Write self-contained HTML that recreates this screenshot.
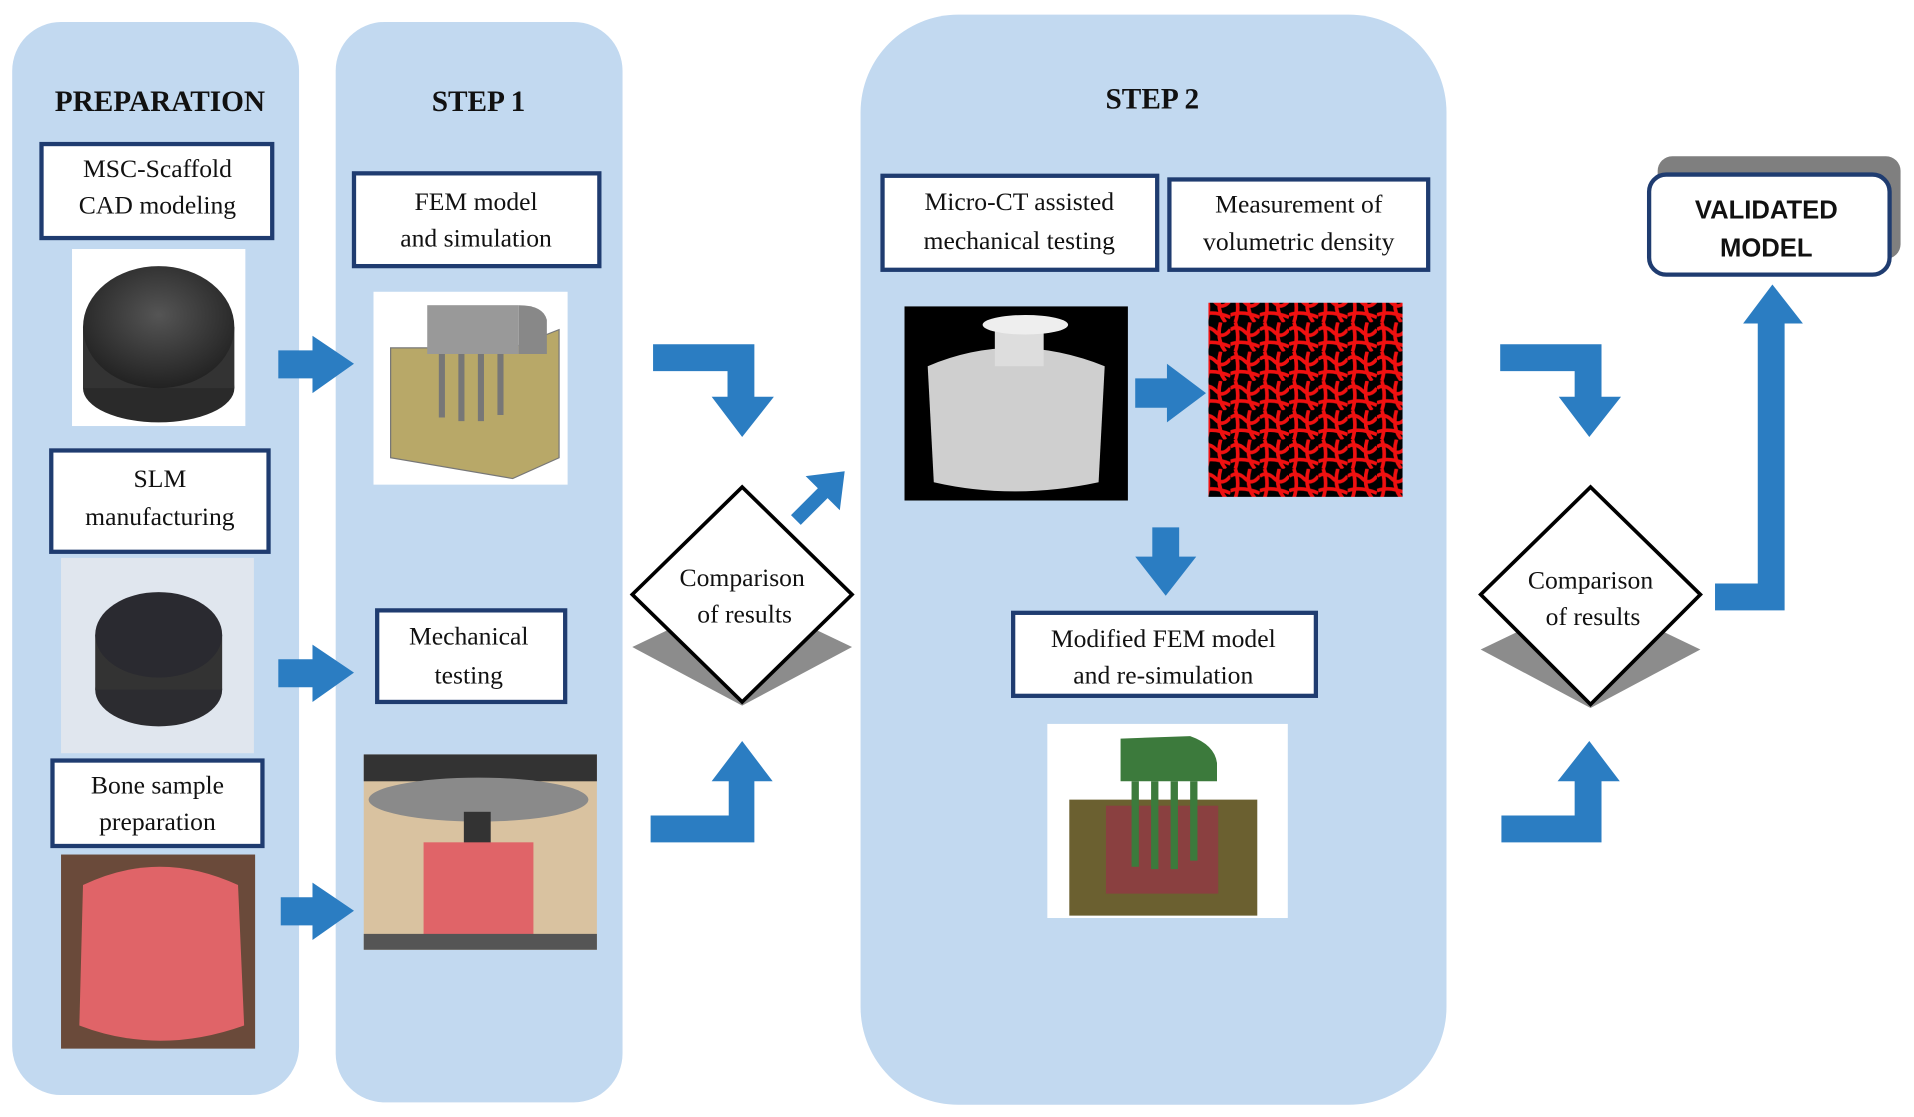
<!DOCTYPE html>
<html><head><meta charset="utf-8"><style>
html,body{margin:0;padding:0;background:#fff}
svg{display:block}
text{font-family:"Liberation Serif",serif;fill:#111}
</style></head><body>
<svg width="1914" height="1117" viewBox="0 0 1568 915" preserveAspectRatio="none" xmlns="http://www.w3.org/2000/svg">
<defs>
<radialGradient id="sc" cx="0.5" cy="0.4" r="0.6"><stop offset="0" stop-color="#555"/><stop offset="1" stop-color="#222"/></radialGradient>
<pattern id="redp" width="24" height="24" patternUnits="userSpaceOnUse"><rect width="24" height="24" fill="#000"/><path d="M0 6 Q6 2 12 8 T24 6 M4 0 Q8 12 4 24 M16 0 Q12 14 20 24 M0 18 Q10 14 24 20" stroke="#f01010" stroke-width="3" fill="none"/></pattern>
</defs>
<rect width="1568" height="915" fill="#fff"/>
<!-- panels -->
<rect x="10" y="18" width="235" height="879" rx="40" fill="#c2d9f0"/>
<rect x="275" y="18" width="235" height="885" rx="40" fill="#c2d9f0"/>
<rect x="705" y="12" width="480" height="893" rx="80" fill="#c2d9f0"/>
<!-- titles -->
<text x="131" y="91" font-size="24" font-weight="bold" text-anchor="middle">PREPARATION</text>
<text x="392" y="91" font-size="24" font-weight="bold" text-anchor="middle">STEP 1</text>
<text x="944" y="89" font-size="24" font-weight="bold" text-anchor="middle">STEP 2</text>
<g fill="#fff" stroke="#1f3c70" stroke-width="3.5">
<rect x="34" y="118" width="189" height="77"/>
<rect x="42" y="369" width="178" height="83"/>
<rect x="43" y="623" width="172" height="70"/>
<rect x="290" y="142" width="201" height="76"/>
<rect x="309" y="500" width="154" height="75"/>
<rect x="723" y="144" width="225" height="77"/>
<rect x="958" y="147" width="212" height="74"/>
<rect x="830" y="502" width="248" height="68"/>
</g>
<g font-size="21" text-anchor="middle">
<text x="129" y="145">MSC-Scaffold</text><text x="129" y="175">CAD modeling</text>
<text x="131" y="399">SLM</text><text x="131" y="430">manufacturing</text>
<text x="129" y="650">Bone sample</text><text x="129" y="680">preparation</text>
<text x="390" y="172">FEM model</text><text x="390" y="202">and simulation</text>
<text x="384" y="528">Mechanical</text><text x="384" y="560">testing</text>
<text x="835" y="172">Micro-CT assisted</text><text x="835" y="204">mechanical testing</text>
<text x="1064" y="174">Measurement of</text><text x="1064" y="205">volumetric density</text>
<text x="953" y="530">Modified FEM model</text><text x="953" y="560">and re-simulation</text>
</g>
<!-- images -->
<rect x="59" y="204" width="142" height="145" fill="#fff"/>
<ellipse cx="130" cy="318" rx="62" ry="28" fill="#2a2a2a"/>
<rect x="68" y="268" width="124" height="50" fill="#333"/>
<ellipse cx="130" cy="268" rx="62" ry="50" fill="url(#sc)"/>
<rect x="50" y="457" width="158" height="160" fill="#e0e6ee"/>
<ellipse cx="130" cy="565" rx="52" ry="30" fill="#2c2c30"/>
<rect x="78" y="520" width="104" height="45" fill="#333"/>
<ellipse cx="130" cy="520" rx="52" ry="35" fill="#2a2a30"/>
<rect x="50" y="700" width="159" height="159" fill="#6a4a3a"/>
<path d="M68 725 Q130 695 195 725 L200 840 Q130 865 65 840 Z" fill="#e06468"/>
<rect x="306" y="239" width="159" height="158" fill="#fff"/>
<path d="M320 285 L420 285 L458 270 L458 375 L420 392 L320 375 Z" fill="#b8a868" stroke="#777"/>
<rect x="350" y="250" width="75" height="40" fill="#999"/>
<path d="M425 250 Q445 250 448 262 L448 290 L425 290 Z" fill="#888"/>
<g stroke="#777" stroke-width="5"><line x1="362" y1="290" x2="362" y2="342"/><line x1="378" y1="290" x2="378" y2="345"/><line x1="394" y1="290" x2="394" y2="345"/><line x1="410" y1="290" x2="410" y2="340"/></g>
<rect x="298" y="618" width="191" height="160" fill="#d9c2a0"/>
<rect x="298" y="618" width="191" height="22" fill="#333"/>
<ellipse cx="392" cy="655" rx="90" ry="18" fill="#8a8a8a"/>
<rect x="380" y="665" width="22" height="28" fill="#333"/>
<rect x="347" y="690" width="90" height="78" fill="#e06468"/>
<rect x="298" y="765" width="191" height="13" fill="#555"/>
<rect x="741" y="251" width="183" height="159" fill="#000"/>
<path d="M760 300 Q830 270 905 300 L900 395 Q830 410 765 395 Z" fill="#cfcfcf"/>
<rect x="815" y="265" width="40" height="35" fill="#ddd"/>
<ellipse cx="840" cy="266" rx="35" ry="8" fill="#eee"/>
<rect x="990" y="248" width="159" height="159" fill="url(#redp)"/>
<rect x="858" y="593" width="197" height="159" fill="#fff"/>
<path d="M876 655 L1030 655 L1030 750 L876 750 Z" fill="#6b6030"/>
<rect x="906" y="660" width="92" height="72" fill="#8a4040"/>
<path d="M918 605 L975 603 Q995 610 997 625 L997 640 L918 640 Z" fill="#3c7a3c"/>
<g stroke="#3c7a3c" stroke-width="6"><line x1="930" y1="640" x2="930" y2="710"/><line x1="946" y1="640" x2="946" y2="712"/><line x1="962" y1="640" x2="962" y2="712"/><line x1="978" y1="640" x2="978" y2="705"/></g>
<!-- arrows -->
<g fill="#2b7dc2">
<path d="M228 287 H256 V275 L290 298 L256 322 V310 H228 Z"/>
<path d="M228 540 H256 V528 L290 551 L256 575 V563 H228 Z"/>
<path d="M230 735 H256 V723 L290 746 L256 770 V758 H230 Z"/>
<path d="M930 310 H956 V298 L988 322 L956 346 V334 H930 Z"/>
<path d="M944 432 H966 V456 H980 L955 488 L930 456 H944 Z"/>
<path d="M535 282 H618 V325 H634 L608 358 L583 325 H596 V304 H535 Z"/>
<path d="M1229 282 H1312 V325 H1328 L1302 358 L1277 325 H1290 V304 H1229 Z"/>
<path d="M533 668 H597 V640 H583 L608 607 L633 640 H618 V690 H533 Z"/>
<path d="M1230 668 H1290 V640 H1276 L1302 607 L1327 640 H1312 V690 H1230 Z"/>
<path d="M648 422 L670 400 L660 390 L692 386 L688 418 L678 408 L656 430 Z"/>
<path d="M1405 478 H1440 V265 H1428 L1452 233 L1477 265 H1462 V500 H1405 Z"/>
</g>
<!-- diamonds -->
<polygon points="518,530 608,487 698,530 608,578" fill="#8c8c8c"/>
<polygon points="608,399 698,487 608,575 518,487" fill="#fff" stroke="#000" stroke-width="3"/>
<polygon points="1213,532 1303,489 1393,532 1303,580" fill="#8c8c8c"/>
<polygon points="1303,399 1393,487 1303,577 1213,487" fill="#fff" stroke="#000" stroke-width="3"/>
<g font-size="21" text-anchor="middle">
<text x="608" y="480">Comparison</text><text x="610" y="510">of results</text>
<text x="1303" y="482">Comparison</text><text x="1305" y="512">of results</text>
</g>
<!-- validated -->
<rect x="1358" y="128" width="199" height="84" rx="12" fill="#7f7f7f"/>
<rect x="1351" y="143" width="197" height="82" rx="14" fill="#fff" stroke="#1f3c70" stroke-width="3.5"/>
<text x="1447" y="179" font-size="21" font-weight="bold" text-anchor="middle" style="font-family:'Liberation Sans',sans-serif">VALIDATED</text>
<text x="1447" y="210" font-size="21" font-weight="bold" text-anchor="middle" style="font-family:'Liberation Sans',sans-serif">MODEL</text>
</svg>
</body></html>
